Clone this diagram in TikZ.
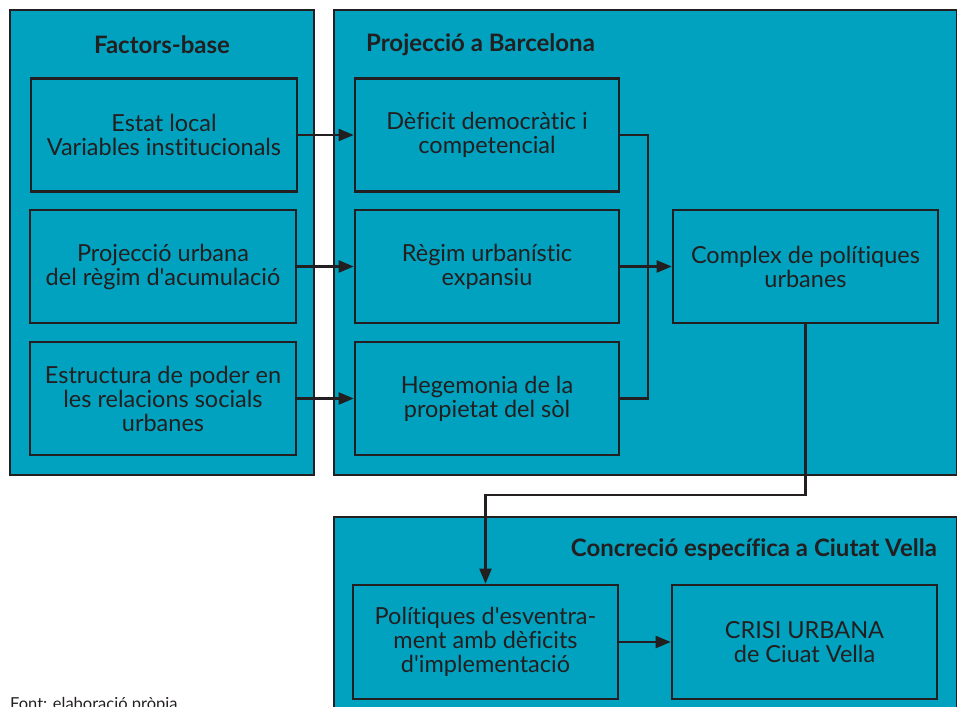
\documentclass[tikz,border=0pt]{standalone}
\usepackage{fontspec}
\setmainfont{Lato}[Ligatures={NoCommon}]
\usetikzlibrary{arrows.meta}
\definecolor{teal}{HTML}{00A2BF}
\definecolor{ink}{HTML}{231F20}
\newcommand{\apo}{\textquotesingle}
\begin{document}
\begin{tikzpicture}[x=1pt,y=-1pt,
  panel/.style={draw=ink,fill=teal,line width=2.6pt},
  box/.style={draw=ink,fill=teal,line width=2.6pt,align=center,inner sep=0pt,
    font=\fontsize{23.5}{24}\selectfont,text=ink},
  ttl/.style={font=\fontsize{24}{26}\selectfont\bfseries,text=ink,inner sep=0pt},
  link/.style={draw=ink,line width=2.2pt},
  arr/.style={link,-{Triangle[length=15pt,width=12pt]}}]
\useasboundingbox (0,0) rectangle (957,706);
\begin{scope}
\clip (0,0) rectangle (957,706);
% panels
\draw[panel] (10,10) rectangle (314,475);
\draw[panel] (334,10) rectangle (957,475);
\draw[panel] (334,517) rectangle (957,720);
\node[ttl] (t1) at (162,45) {Factors-base};
\node[ttl,anchor=west] (t2) at (366,45) {Projecció a Barcelona};
\node[ttl,anchor=east] (t3) at (937,550) {Concreció específica a Ciutat Vella};
% left boxes
\node[box,minimum width=266pt,minimum height=113pt] (l1) at (164,135) {Estat local\\Variables institucionals};
\node[box,minimum width=266pt,minimum height=113pt] (l2) at (163,266.5) {Projecció urbana\\del règim d\apo acumulació};
\node[box,minimum width=266pt,minimum height=113pt] (l3) at (163,398.5) {Estructura de poder en\\les relacions socials\\urbanes};
% middle boxes
\node[box,minimum width=264pt,minimum height=113pt] (m1) at (487,135) {Dèficit democràtic i\\competencial};
\node[box,minimum width=264pt,minimum height=113pt] (m2) at (487,266.5) {Règim urbanístic\\expansiu};
\node[box,minimum width=264pt,minimum height=113pt] (m3) at (487,398.5) {Hegemonia de la\\propietat del sòl};
\node[box,minimum width=265pt,minimum height=113pt] (cx) at (805.5,266.5) {Complex de polítiques\\urbanes};
% bottom boxes
\node[box,minimum width=265pt,minimum height=114pt] (p1) at (485.5,642) {Polítiques d\apo esventra-\\ment amb dèficits\\d\apo implementació};
\node[box,minimum width=265pt,minimum height=114pt] (p2) at (804.5,642) {CRISI URBANA\\de Ciuat Vella};
% connectors
\draw[arr] (l1.east) -- (m1.west);
\draw[arr] (l2.east) -- (m2.west);
\draw[arr] (l3.east) -- (m3.west);
\coordinate (bus) at (648,0);
\draw[link] (m1.east) -- (m1.east -| bus) -- (m3.east -| bus) -- (m3.east);
\draw[arr] (m2.east) -- (cx.west);
\coordinate (turn) at (0,495);
\draw[arr] (cx.south) -- (cx.south |- turn) -| (p1.north);
\draw[arr] (p1.east) -- (p2.west);
\node[anchor=base west,inner sep=0pt,font=\fontsize{16.5}{18}\selectfont,text=ink] (src) at (10,709) {Font: elaboració pròpia};
\end{scope}
\end{tikzpicture}
\end{document}
